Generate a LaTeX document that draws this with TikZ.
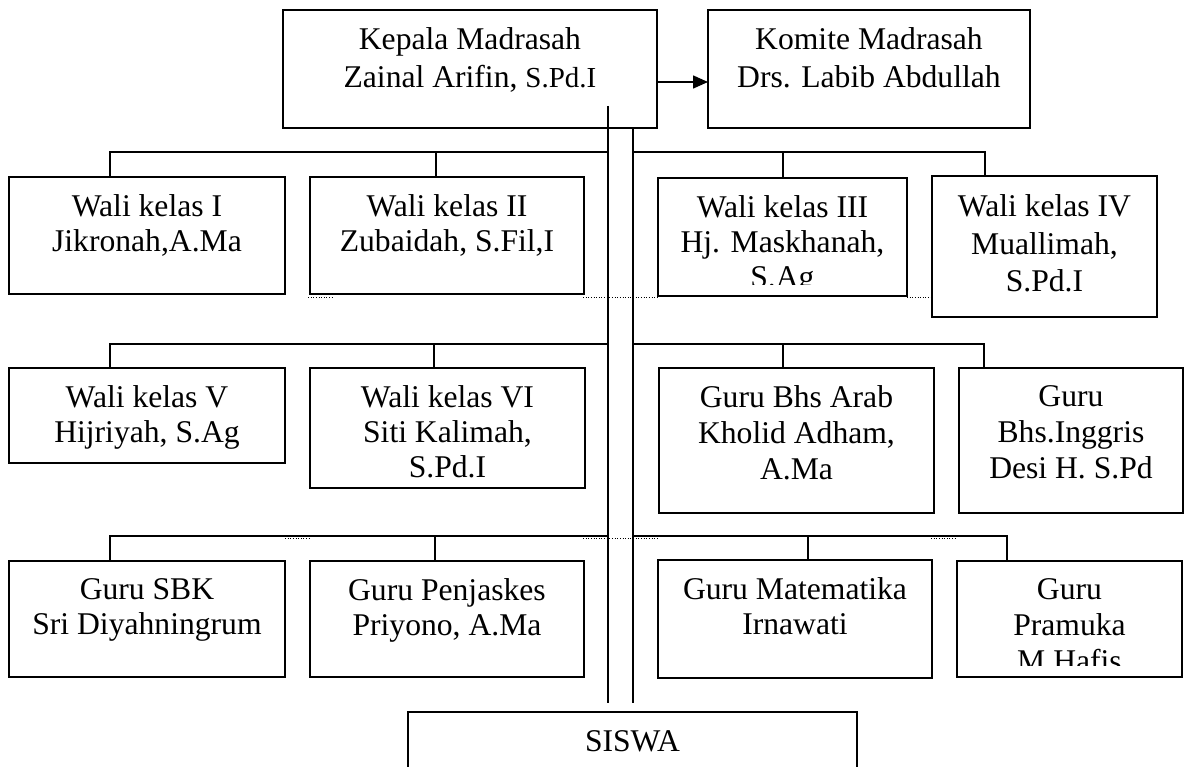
\documentclass[tikz,border=0pt]{standalone}
\usepackage{fontspec}
\setmainfont{Liberation Serif}
\usepackage{tikz}
\usetikzlibrary{positioning, arrows.meta}

\begin{document}
\begin{tikzpicture}[
    x=0.02cm, y=-0.02cm,
    box/.style={rectangle, draw, line width=0.9pt, inner sep=0pt, outer sep=0pt,
                anchor=north west},
    txt/.style={align=center, inner sep=0pt, font=\fontsize{18}{19.7}\selectfont},
    link/.style={line width=0.85pt},
    arrow/.style={->, >={Triangle[length=0.3cm, width=0.26cm]}, line width=0.85pt},
    dots/.style={densely dotted, line width=0.5pt},
]
\useasboundingbox (0,0) rectangle (1186,767);
\clip (0,0) rectangle (1186,767);

% head and committee
\node[box, minimum width=7.48cm, minimum height=2.36cm] (kepala) at (283,10) {};
\node[txt, below=0.35cm of kepala.north, font=\fontsize{18}{21.5}\selectfont] (kepalatxt)
    {Kepala Madrasah\\Zainal Arifin, {\fontsize{16.5}{16.5}\selectfont S.Pd.I}};
\node[box, minimum width=6.44cm, minimum height=2.36cm] (komite) at (708,10) {};
\node[txt, below=0.35cm of komite.north, font=\fontsize{18}{21.5}\selectfont] (komitetxt)
    {Komite Madrasah\\Drs. Labib Abdullah};

% row 1
\node[box, minimum width=5.52cm, minimum height=2.34cm] (w1) at (9,177) {};
\node[txt, below=0.35cm of w1.north] (w1txt) {Wali kelas I\\Jikronah,A.Ma};
\node[box, minimum width=5.48cm, minimum height=2.34cm] (w2) at (310,177) {};
\node[txt, below=0.35cm of w2.north] (w2txt) {Wali kelas II\\Zubaidah, S.Fil,I};
\node[box, minimum width=4.98cm, minimum height=2.36cm] (w3) at (658,178) {};
\begin{scope}
  \clip (w3.north west) rectangle ([yshift=0.22cm]w3.south east);
  \node[txt, below=0.35cm of w3.north] (w3txt) {Wali kelas III\\Hj. Maskhanah,\\S.Ag};
\end{scope}
\node[box, minimum width=4.5cm, minimum height=2.82cm] (w4) at (932,176) {};
\node[txt, below=0.36cm of w4.north, font=\fontsize{18}{21.5}\selectfont] (w4txt)
    {Wali kelas IV\\Muallimah,\\S.Pd.I};

% row 2
\node[box, minimum width=5.52cm, minimum height=1.9cm] (w5) at (9,368) {};
\node[txt, below=0.35cm of w5.north] (w5txt) {Wali kelas V\\Hijriyah, S.Ag};
\node[box, minimum width=5.5cm, minimum height=2.4cm] (w6) at (310,368) {};
\node[txt, below=0.35cm of w6.north] (w6txt) {Wali kelas VI\\Siti Kalimah,\\S.Pd.I};
\node[box, minimum width=5.5cm, minimum height=2.9cm] (arab) at (659,368) {};
\node[txt, below=0.35cm of arab.north, font=\fontsize{18}{20.5}\selectfont] (arabtxt)
    {Guru Bhs Arab\\Kholid Adham,\\A.Ma};
\node[box, minimum width=4.48cm, minimum height=2.9cm] (inggris) at (959,368) {};
\node[txt, below=0.35cm of inggris.north, font=\fontsize{18}{20.5}\selectfont] (inggristxt)
    {Guru\\Bhs.Inggris\\Desi H. S.Pd};

% row 3
\node[box, minimum width=5.52cm, minimum height=2.32cm] (sbk) at (9,561) {};
\node[txt, below=0.35cm of sbk.north] (sbktxt) {Guru SBK\\Sri Diyahningrum};
\node[box, minimum width=5.48cm, minimum height=2.32cm] (penjas) at (310,561) {};
\node[txt, below=0.35cm of penjas.north] (penjastxt) {Guru Penjaskes\\Priyono, A.Ma};
\node[box, minimum width=5.48cm, minimum height=2.36cm] (mtk) at (658,560) {};
\node[txt, below=0.35cm of mtk.north] (mtktxt) {Guru Matematika\\Irnawati};
\node[box, minimum width=4.5cm, minimum height=2.32cm] (pramuka) at (957,561) {};
\begin{scope}
  \clip (pramuka.north west) rectangle ([yshift=0.22cm]pramuka.south east);
  \node[txt, below=0.35cm of pramuka.north, font=\fontsize{18}{20.5}\selectfont] (pramukatxt)
      {Guru\\Pramuka\\M Hafis};
\end{scope}

% students
\node[box, minimum width=8.98cm, minimum height=2cm] (siswa) at (408,712) {};
\node[txt, below=0.36cm of siswa.north] (siswatxt) {SISWA};

% lines
\coordinate (arr) at (0,82);
\draw[arrow] (kepala.east |- arr) -- (komite.west |- arr);

\coordinate (vl) at (608,106);
\coordinate (vr) at (633,128);
\coordinate (vend) at (0,703);
\draw[link] (vl) -- (vl |- vend);
\draw[link] (vr) -- (vr |- vend);

\coordinate (r1a) at (110,152);
\coordinate (r1b) at (436,152);
\coordinate (r1c) at (783,152);
\coordinate (r1d) at (985,152);
\draw[link] (r1a |- w1.north) -- (r1a) -- (r1a -| vl);
\draw[link] (r1b) -- (r1b |- w2.north);
\draw[link] (r1a -| vr) -- (r1d) -- (r1d |- w4.north);
\draw[link] (r1c) -- (r1c |- w3.north);

\coordinate (r2a) at (110,344);
\coordinate (r2b) at (434,344);
\coordinate (r2c) at (783,344);
\coordinate (r2d) at (984,344);
\draw[link] (r2a |- w5.north) -- (r2a) -- (r2a -| vl);
\draw[link] (r2b) -- (r2b |- w6.north);
\draw[link] (r2a -| vr) -- (r2d) -- (r2d |- inggris.north);
\draw[link] (r2c) -- (r2c |- arab.north);

\coordinate (r3a) at (110,536);
\coordinate (r3b) at (435,536);
\coordinate (r3c) at (808,536);
\coordinate (r3d) at (1007,536);
\draw[link] (r3a |- sbk.north) -- (r3a) -- (r3a -| vl);
\draw[link] (r3b) -- (r3b |- penjas.north);
\draw[link] (r3a -| vr) -- (r3d) -- (r3d |- pramuka.north);
\draw[link] (r3c) -- (r3c |- mtk.north);

% dotted leftovers
\draw[dots] (308,297) -- (333,297);
\draw[dots] (583,297) -- (657,297);
\draw[dots] (907,297) -- (932,297);
\draw[dots] (285,538) -- (310,538);
\draw[dots] (583,538) -- (657,538);
\draw[dots] (931,538) -- (957,538);
\end{tikzpicture}
\end{document}
